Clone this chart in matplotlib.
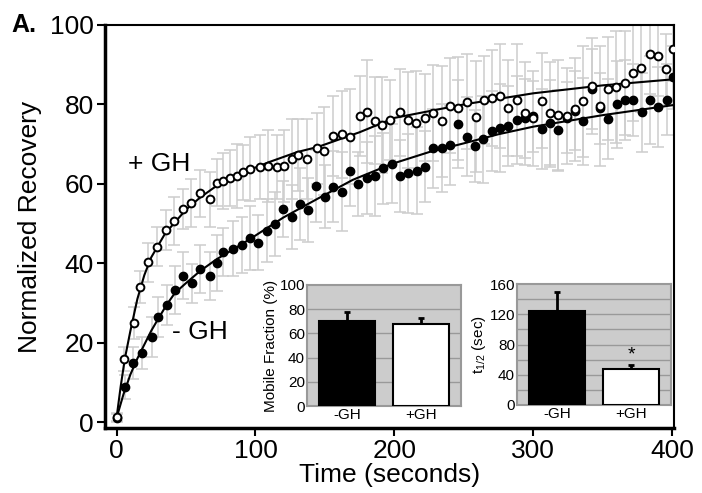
import matplotlib
matplotlib.use('Agg')
import matplotlib.pyplot as plt

plt.rcParams['font.family'] = ['Liberation Sans', 'DejaVu Sans']

# FRAP recovery, + GH (open circles)
t_plus = [0.1, 5.6, 12.8, 16.9, 22.9, 28.9, 35.6, 41.6, 48.1, 53.6, 60.1, 67.3, 72.1, 76.8, 81.7,
          86.5, 91.2, 96.0, 103.2, 108.8, 115.2, 120.7, 126.0, 130.8, 136.8, 144.0, 149.5, 156.0,
          162.0, 168.0, 175.2, 180.0, 186.0, 190.8, 196.8, 204, 210, 215.5, 222, 228, 234, 240,
          246, 252, 258.6, 264.6, 270, 275.9, 281.9, 287.9, 293.9, 300, 306, 312, 318, 324, 330,
          336, 342, 348, 353.8, 359.8, 365.8, 371.8, 377.8, 383.8, 389.8, 395.8, 400.4]
v_plus = [1.3, 15.9, 25.0, 34.1, 40.2, 44.2, 48.4, 50.6, 53.6, 55.2, 57.6, 56.1, 60.3, 60.7, 61.4,
          62.0, 62.9, 63.7, 64.2, 64.5, 64.2, 64.5, 66.2, 67.3, 66.2, 68.9, 68.3, 72.0,
          72.5, 71.9, 77.1, 78.2, 75.9, 74.8, 76.1, 78.0, 76.1, 75.3, 76.7, 77.8, 75.7, 79.7,
          79.0, 80.7, 76.9, 81.1, 81.6, 82.1, 79.1, 81.1, 77.8, 76.5, 80.9, 77.8, 77.3, 77.1, 78.8,
          80.8, 84.6, 79.6, 84.0, 84.4, 85.4, 87.9, 89.1, 92.7, 92.2, 88.8, 93.9]
e_plus = [1, 3, 4, 4, 5, 5, 5, 6, 5, 6, 6, 7, 6, 7, 7,
          8, 7, 8, 8, 9, 8, 9, 10, 9, 10, 9, 11, 10,
          11, 12, 10, 13, 11, 12, 10, 11, 12, 13, 11, 12, 14, 12,
          13, 12, 14, 11, 12, 13, 12, 14, 13, 12, 12, 13, 14, 12, 13,
          14, 12, 15, 13, 14, 13, 12, 11, 10, 10, 9, 8]

# FRAP recovery, - GH (filled circles)
t_minus = [0.1, 6.1, 12.1, 18.1, 25.3, 29.6, 36.1, 42.1, 48.1, 54.1, 60.1, 67.3, 72.1, 76.9, 84.1,
           90.1, 96.0, 102, 108, 114, 120, 126, 132, 138, 143.3, 150, 156, 162, 168, 174, 180,
           186, 192, 198, 204, 210, 216, 222, 228, 234, 240, 246, 252, 258, 264, 270, 276, 282,
           288, 294, 300, 306, 312, 318, 324, 330, 336, 342, 348, 354, 360, 366, 372, 378, 384,
           390, 396, 400.4]
v_minus = [1.0, 8.9, 14.8, 17.3, 21.5, 26.5, 29.5, 33.2, 36.9, 34.9, 38.5, 36.8, 40.0, 42.9, 43.7,
           44.6, 46.3, 45.2, 48.2, 49.9, 53.6, 51.7, 54.9, 53.4, 59.4, 56.8, 59.3, 58.0, 63.3, 60.0, 61.5,
           62.0, 63.9, 65.1, 62.0, 62.6, 63.3, 64.3, 68.9, 69.0, 69.7, 75.1, 71.9, 69.5, 71.2, 73.3, 74.1, 74.6,
           76.1, 76.5, 77.0, 73.8, 75.2, 73.6, 76.7, 78.4, 75.7, 83.9, 79.0, 76.3, 80.0, 81.1, 81.1, 78.0, 81.1,
           79.3, 81.2, 86.8]
e_minus = [1, 3, 4, 4, 5, 5, 5, 6, 6, 5, 6, 6, 7, 6, 7,
           7, 8, 7, 8, 8, 7, 8, 9, 8, 9, 8, 9, 10, 9, 8, 9,
           10, 9, 10, 9, 10, 11, 9, 10, 11, 10, 11, 10, 9, 11, 10, 11, 10,
           11, 10, 9, 10, 11, 10, 9, 10, 11, 10, 9, 10, 11, 10, 9, 10, 11,
           10, 9, 8]

# fitted recovery curves
fit_t_plus = [0, 3, 6, 10, 15, 20, 25, 30, 35, 40, 50, 60, 70, 80, 92, 110, 130, 145, 175, 200,
              250, 300, 350, 400]
fit_plus = [1, 9, 16, 23, 31, 37, 41.5, 44.5, 47.5, 49.5, 53.5, 56.5, 59, 61, 63, 65.5, 68, 69.3,
            73, 76.6, 80, 82.8, 84.8, 86.3]
fit_t_minus = [0, 5, 10, 15, 20, 25, 30, 36, 42, 50, 60, 72, 84, 97, 120, 145, 170, 198, 225, 250,
               275, 300, 350, 400]
fit_minus = [1, 7, 12, 16, 19.5, 23, 26, 29.5, 32.5, 35, 38, 41, 43.5, 46.3, 51.5, 56.3, 61, 65,
             68, 70.2, 72.5, 74.4, 77.3, 79.8]

# insets
groups = ['-GH', '+GH']
mobile = [70.5, 67.5]
mobile_err = [7, 5]
thalf = [124.5, 47]
thalf_err = [25.5, 6]

fig = plt.figure(figsize=(7.02, 4.93), dpi=100)
W, H = 702, 493
ax = fig.add_axes([105 / W, 1 - 428 / H, 569 / W, 403 / H])

grey = '#cdcdcd'
ax.errorbar(t_plus, v_plus, yerr=e_plus, fmt='none', ecolor=grey, elinewidth=1.1, capsize=4, capthick=1.1, zorder=1)
ax.errorbar(t_minus, v_minus, yerr=e_minus, fmt='none', ecolor=grey, elinewidth=1.1, capsize=4, capthick=1.1, zorder=1)
ax.plot(fit_t_plus, fit_plus, color='black', lw=1.5, zorder=3)
ax.plot(fit_t_minus, fit_minus, color='black', lw=1.5, zorder=3)
ax.plot(t_minus, v_minus, 'o', ms=6.0, mfc='black', mec='black', zorder=4)
ax.plot(t_plus, v_plus, 'o', ms=5.6, mfc='white', mec='black', mew=1.4, zorder=5)

ax.set_xlim(-8.3, 401.2)
ax.set_ylim(-1.5, 100)
ax.set_xticks([0, 100, 200, 300, 400])
ax.set_yticks([0, 20, 40, 60, 80, 100])
ax.tick_params(labelsize=19, length=6, width=1.5, pad=2)
for s in ['left', 'bottom']:
    ax.spines[s].set_linewidth(2.5)
for s in ['top', 'right']:
    ax.spines[s].set_linewidth(1.5)
ax.set_xlabel('Time (seconds)', fontsize=19, labelpad=0)
ax.set_ylabel('Normalized Recovery', fontsize=19, labelpad=6)
ax.text(8.3, 65, '+ GH', fontsize=19, va='center', ha='left')
ax.text(40, 22.7, '- GH', fontsize=19, va='center', ha='left')
fig.text(11 / W, 1 - 25 / H, 'A.', fontsize=18, fontweight='bold', va='center', ha='left')


def inset(rect, vals, errs, ylim, yticks, grid, ylabel):
    a = fig.add_axes(rect)
    a.set_facecolor('#cccccc')
    a.bar([0, 1], vals, width=0.76, color=['black', 'white'], edgecolor='black', lw=1.5, zorder=3)
    a.errorbar([0, 1], vals, yerr=[[0, 0], errs], fmt='none', ecolor='black', elinewidth=2, capsize=2, capthick=2, zorder=2)
    a.set_xlim(-0.54, 1.54)
    a.set_ylim(*ylim)
    a.set_yticks(yticks)
    for g in grid:
        a.axhline(g, color='#999999', lw=1, zorder=1)
    a.set_xticks([0, 1])
    a.set_xticklabels(groups)
    a.tick_params(labelsize=11, length=0, pad=1.5)
    for s in a.spines.values():
        s.set_color('#999999')
        s.set_linewidth(1.5)
    a.set_ylabel(ylabel, fontsize=11, labelpad=1)
    return a


ax1 = inset([307 / W, 1 - 406 / H, 154 / W, 121 / H], mobile, mobile_err, (0, 100),
            [0, 20, 40, 60, 80, 100], [20, 40, 60, 80], 'Mobile Fraction (%)')
ax2 = inset([517 / W, 1 - 405 / H, 154 / W, 121 / H], thalf, thalf_err, (0, 160),
            [0, 40, 80, 120, 160], [20, 40, 60, 80, 100, 120, 140], r't$_{\mathregular{1/2}}$ (sec)')
ax2.text(1, thalf[1] + thalf_err[1] + 2, '*', fontsize=14, ha='center', va='bottom')

fig.savefig('out.png', dpi=100)
